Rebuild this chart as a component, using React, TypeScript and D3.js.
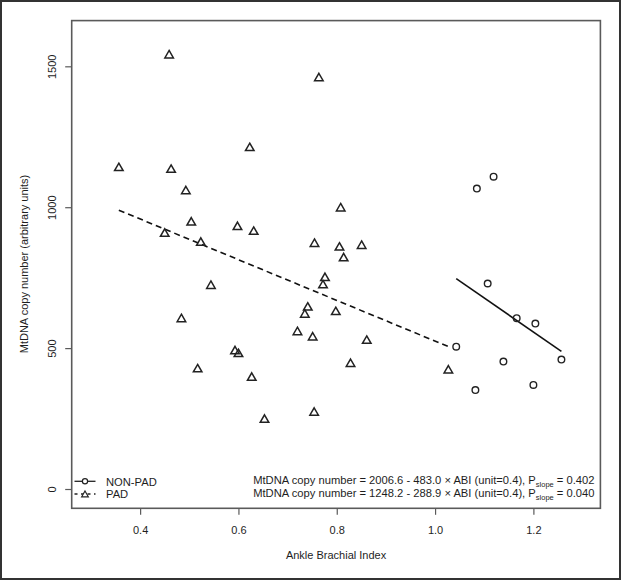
import React from "react";
import * as d3 from "d3";

const padX = [0.458, 0.7626, 0.622, 0.3557, 0.462, 0.492, 0.807, 0.503, 0.449, 0.597, 0.63, 0.5225, 0.7537, 0.8045, 0.8496, 0.813, 0.775, 0.771, 0.543, 0.74, 0.734, 0.797, 0.483, 0.719, 0.75, 0.86, 0.592, 0.599, 0.827, 0.516, 1.026, 0.626, 0.753, 0.652];
const padY = [1542, 1461, 1213, 1142, 1136, 1060, 999, 949, 909, 933, 916, 877, 873, 860, 866, 822, 752, 726, 724, 647, 622, 631, 606, 560, 541, 529, 492, 482, 447, 428, 424, 398, 274, 249];
const nonPadX = [1.118, 1.084, 1.106, 1.165, 1.203, 1.042, 1.138, 1.256, 1.199, 1.081];
const nonPadY = [1110, 1068, 731, 608, 589, 507, 454, 461, 371, 353];

const xTicks = [0.4, 0.6, 0.8, 1.0, 1.2];
const yTicks = [0, 500, 1000, 1500];

// regression: intercept, slope per 0.4 unit, p
const nonPadFit = { intercept: 2006.6, slope: 483.0, p: "0.402" };
const padFit = { intercept: 1248.2, slope: 288.9, p: "0.040" };
const unit = 0.4;

const FONT = "'Liberation Sans', Arial, Helvetica, sans-serif";
const TXT = "#1e1e1e";
const BOX = "#5a5a5a";

export default function App() {
  const W = 621, H = 580;
  const L = 71.7, R = 600.4, T = 20.6, B = 508.3;
  const x = d3.scaleLinear().domain([0.2598, 1.3353]).range([L, R]);
  const y = d3.scaleLinear().domain([-66.7, 1664]).range([B, T]);

  const fitLine = (fit: typeof padFit, xs: number[]) => {
    const [a, b] = d3.extent(xs) as [number, number];
    const f = (v: number) => fit.intercept - (fit.slope / unit) * v;
    return d3.line<number>().x((v) => x(v)).y((v) => y(f(v)))([a, b]) as string;
  };

  const tri = (cx: number, cy: number, s = 4.5) =>
    `M${cx},${cy - s} L${cx + s * 0.95},${cy + s * 0.65} L${cx - s * 0.95},${cy + s * 0.65} Z`;

  const eq = (fit: typeof padFit) =>
    `MtDNA copy number = ${fit.intercept.toFixed(1)} - ${fit.slope.toFixed(1)} \u00d7 ABI (unit=${unit}), P`;

  return (
    <div style={{ position: "absolute", left: 0, top: 0 }}>
      <svg width={W} height={H} style={{ display: "block", background: "#fff" }} fontFamily={FONT}>
        <rect x={1} y={1} width={W - 2} height={H - 2} fill="#fff" stroke="#333" strokeWidth={2} />
        {/* plot box */}
        <rect x={L} y={T} width={R - L} height={B - T} fill="none" stroke={BOX} strokeWidth={1.6} />
        {/* x axis */}
        {xTicks.map((t) => (
          <g key={"x" + t}>
            <line x1={x(t)} x2={x(t)} y1={B} y2={B + 6.5} stroke={BOX} strokeWidth={1.2} />
            <text x={x(t)} y={534} fontSize={11} textAnchor="middle" fill={TXT}>
              {t.toFixed(1)}
            </text>
          </g>
        ))}
        {/* y axis */}
        {yTicks.map((t) => (
          <g key={"y" + t}>
            <line x1={L - 6.5} x2={L} y1={y(t)} y2={y(t)} stroke={BOX} strokeWidth={1.2} />
            <text transform={`translate(56,${y(t)}) rotate(-90)`} fontSize={11} textAnchor="middle" fill={TXT}>
              {t}
            </text>
          </g>
        ))}
        <text x={(L + R) / 2} y={559} fontSize={11} textAnchor="middle" fill={TXT}>
          Ankle Brachial Index
        </text>
        <text transform={`translate(28,264) rotate(-90)`} fontSize={11} textAnchor="middle" fill={TXT}>
          MtDNA copy number (arbitrary units)
        </text>

        {/* fit lines */}
        <path d={fitLine(padFit, padX)} fill="none" stroke="#111" strokeWidth={1.6} strokeDasharray="6,4" />
        <path d={fitLine(nonPadFit, nonPadX)} fill="none" stroke="#111" strokeWidth={1.6} />

        {/* points */}
        {padX.map((v, i) => (
          <path key={"p" + i} d={tri(x(v), y(padY[i]))} fill="none" stroke="#222" strokeWidth={1.5} strokeLinejoin="miter" />
        ))}
        {nonPadX.map((v, i) => (
          <circle key={"n" + i} cx={x(v)} cy={y(nonPadY[i])} r={3.3} fill="none" stroke="#222" strokeWidth={1.4} />
        ))}

        {/* legend */}
        <line x1={74.5} x2={95.5} y1={481.3} y2={481.3} stroke="#222" strokeWidth={1.3} />
        <circle cx={85} cy={481.3} r={2.6} fill="#fff" stroke="#222" strokeWidth={1.2} />
        <text x={106} y={485.7} fontSize={11.2} fill={TXT}>NON-PAD</text>
        <line x1={74.5} x2={95.5} y1={494} y2={494} stroke="#222" strokeWidth={1.3} strokeDasharray="3,3.5" />
        <path d={tri(85, 494.5, 3.5)} fill="#fff" stroke="#222" strokeWidth={1.2} />
        <text x={106} y={498.3} fontSize={11.2} fill={TXT}>PAD</text>

        {/* equations */}
        {[nonPadFit, padFit].map((fit, i) => (
          <text key={"e" + i} x={594.5} y={484 + i * 13} fontSize={11.2} textAnchor="end" fill={TXT}>
            {eq(fit)}
            <tspan fontSize={7.5} dy={2.5}>slope</tspan>
            <tspan dy={-2.5}>{` = ${fit.p}`}</tspan>
          </text>
        ))}
      </svg>
    </div>
  );
}
